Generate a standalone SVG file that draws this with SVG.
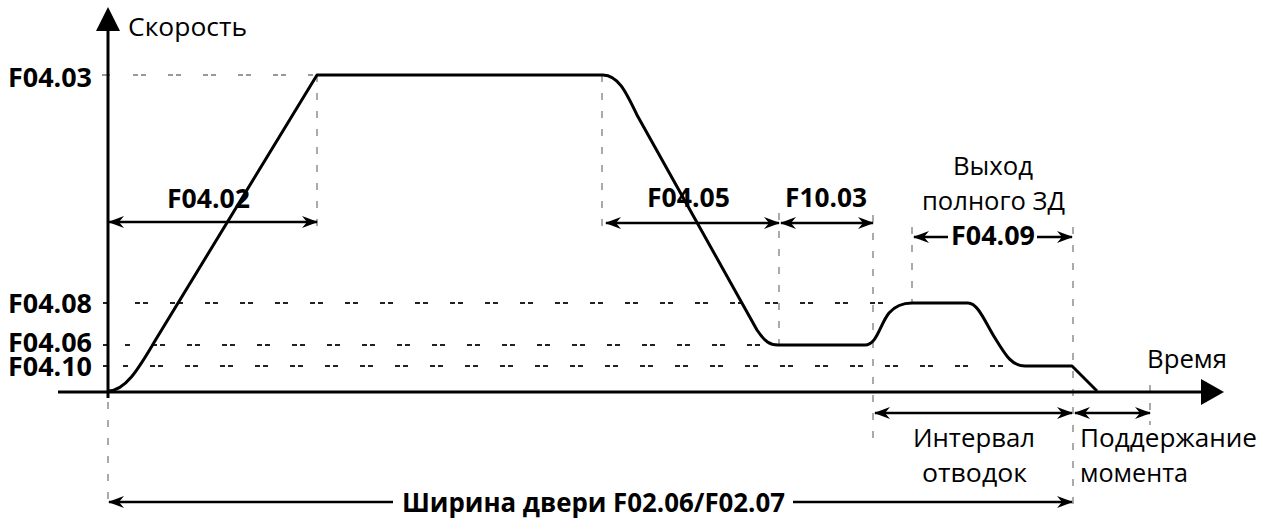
<svg xmlns="http://www.w3.org/2000/svg" width="1273" height="519" viewBox="0 0 1273 519">
<style>
.t{font-family:"Open Sans","Liberation Sans",sans-serif;font-size:26px;fill:#000}
.b{font-family:"Open Sans","Liberation Sans",sans-serif;font-size:27px;font-weight:bold;fill:#000}
.ax{stroke:#000;stroke-width:3;fill:none}
.cv{stroke:#000;stroke-width:3;fill:none;stroke-linejoin:round}
.hd{stroke:#222;stroke-width:2;stroke-dasharray:5 3 5 22;fill:none}
.hg{stroke:#999;stroke-width:2;stroke-dasharray:5 3 5 22;fill:none}
.vd{stroke:#aaa;stroke-width:2;stroke-dasharray:7 11;fill:none}
.ar{stroke:#000;stroke-width:2.5;fill:none;marker-end:url(#ah);marker-start:url(#ah)}
.a1{stroke:#000;stroke-width:2.5;fill:none;marker-end:url(#ah)}
</style>
<defs>
<marker id="ah" viewBox="0 0 16 12" refX="15" refY="6" markerWidth="16" markerHeight="12" markerUnits="userSpaceOnUse" orient="auto-start-reverse">
<path d="M0,0 L16,6 L0,12 L5,6 z" fill="#000"/>
</marker>
</defs>
<g id="guides">
<line class="hg" x1="133" y1="75" x2="317" y2="75"/>
<line x1="102" y1="75" x2="110" y2="75" stroke="#999" stroke-width="2"/>
<line class="hd" x1="135" y1="303" x2="892" y2="303"/>
<line class="hd" x1="125" y1="345" x2="778" y2="345" stroke-dashoffset="8"/>
<line class="hd" x1="123" y1="366" x2="1012" y2="366" stroke-dashoffset="8"/>
<line x1="103" y1="303" x2="108" y2="303" stroke="#222" stroke-width="2"/>
<line x1="103" y1="345" x2="108" y2="345" stroke="#222" stroke-width="2"/>
<line x1="103" y1="366" x2="108" y2="366" stroke="#222" stroke-width="2"/>
<line class="vd" x1="317" y1="75" x2="317" y2="232"/>
<line class="vd" x1="602" y1="75" x2="602" y2="232"/>
<line class="vd" x1="779" y1="213" x2="779" y2="345"/>
<line class="vd" x1="873" y1="215" x2="873" y2="440"/>
<line class="vd" x1="912" y1="227" x2="912" y2="303"/>
<line class="vd" x1="1073" y1="227" x2="1073" y2="510"/>
<line class="vd" x1="1150" y1="385" x2="1150" y2="425"/>
<line class="vd" x1="108" y1="402" x2="108" y2="510"/>
</g>
<g id="axes">
<line class="ax" x1="108" y1="398" x2="108" y2="28"/>
<path d="M96,31 L108,7 L120,31 z" fill="#000"/>
<line class="ax" x1="58" y1="392" x2="1204" y2="392"/>
<path d="M1201,379 L1224,392 L1201,405 z" fill="#000"/>
<text class="t" x="128" y="36" textLength="119" lengthAdjust="spacingAndGlyphs">Скорость</text>
<text class="t" x="1147" y="368" textLength="80" lengthAdjust="spacingAndGlyphs">Время</text>
</g>
<g id="curve">
<path class="cv" d="M108,391 C125,391 138,370 155.5,340 L317,75 L603,75 C618,75 626,92 637,115 L757,330 C765,342 770,345 778,345 L865,345 C877,345 880,324 889,313 C896,305 903,303 912,303 L968,303 C978,303 985,322 995,338 C1006,356 1012,366 1025,366 L1072,366 L1097,391"/>
</g>
<g id="levels">
<text class="b" x="8" y="87" textLength="84" lengthAdjust="spacingAndGlyphs">F04.03</text>
<text class="b" x="8" y="313" textLength="84" lengthAdjust="spacingAndGlyphs">F04.08</text>
<text class="b" x="8" y="352" textLength="84" lengthAdjust="spacingAndGlyphs">F04.06</text>
<text class="b" x="8" y="376" textLength="84" lengthAdjust="spacingAndGlyphs">F04.10</text>
</g>
<g id="connectors">
<line class="ar" x1="109" y1="222" x2="317" y2="222"/>
<line class="ar" x1="606" y1="223" x2="779" y2="223"/>
<line class="ar" x1="781" y1="223" x2="873" y2="223"/>
<line class="a1" x1="948" y1="237" x2="914" y2="237"/>
<line class="a1" x1="1037" y1="237" x2="1072" y2="237"/>
<line class="ar" x1="875" y1="413" x2="1072" y2="413"/>
<line class="ar" x1="1075" y1="413" x2="1150" y2="413"/>
<line class="a1" x1="393" y1="502" x2="109" y2="502"/>
<line class="a1" x1="793" y1="502" x2="1072" y2="502"/>
</g>
<g id="labels">
<text class="b" x="167" y="208" textLength="83" lengthAdjust="spacingAndGlyphs">F04.02</text>
<text class="b" x="647" y="207" textLength="83" lengthAdjust="spacingAndGlyphs">F04.05</text>
<text class="b" x="785" y="207" textLength="82" lengthAdjust="spacingAndGlyphs">F10.03</text>
<text class="t" x="953" y="175" textLength="80" lengthAdjust="spacingAndGlyphs">Выход</text>
<text class="t" x="922" y="210" textLength="143" lengthAdjust="spacingAndGlyphs">полного ЗД</text>
<text class="b" x="951" y="245" textLength="84" lengthAdjust="spacingAndGlyphs">F04.09</text>
<text class="t" x="913" y="447" textLength="122" lengthAdjust="spacingAndGlyphs">Интервал</text>
<text class="t" x="922" y="482" textLength="105" lengthAdjust="spacingAndGlyphs">отводок</text>
<text class="t" x="1080" y="447" textLength="177" lengthAdjust="spacingAndGlyphs">Поддержание</text>
<text class="t" x="1080" y="482" textLength="108" lengthAdjust="spacingAndGlyphs">момента</text>
<text class="b" x="402" y="512" textLength="383" lengthAdjust="spacingAndGlyphs">Ширина двери F02.06/F02.07</text>
</g>
</svg>
